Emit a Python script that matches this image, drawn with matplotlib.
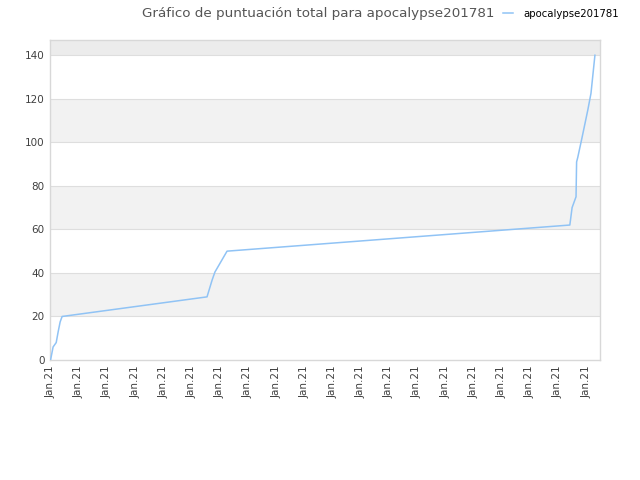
import matplotlib
matplotlib.use("Agg")
import matplotlib.pyplot as plt

# Data (x in tick-units, y total score)
x_vals = [0.0, 0.09, 0.2, 0.27, 0.34, 0.41, 5.55, 5.73, 5.83, 6.26,
          18.42, 18.5, 18.64, 18.66, 18.7, 18.85, 19.06, 19.17, 19.31]
y_vals = [0, 6, 8, 13, 17.5, 20, 29, 36.7, 40.4, 50,
          62, 70, 75, 91, 93, 102, 115, 122.5, 140]
tick_labels = ["Jan.21"] * 20
series_name = "apocalypse201781"
title = "Gráfico de puntuación total para apocalypse201781"

fig = plt.figure(figsize=(6.4, 4.8), dpi=100)
ax = fig.add_axes([50/640, 1-360/480, 550/640, 320/480])

ymax = 147
ax.set_ylim(0, ymax)
ax.set_xlim(-0.02, 19.49)

# alternating bands
for lo in range(0, 160, 20):
    hi = min(lo + 20, ymax)
    if (lo // 20) % 2 == 1:
        ax.axhspan(lo, hi, color="#f2f2f2", zorder=0, lw=0)
ax.axhspan(140, ymax, color="#ececec", zorder=0, lw=0)
for yv in range(20, 160, 20):
    ax.axhline(yv, color="#dedede", lw=0.8, zorder=1)

line, = ax.plot(x_vals, y_vals, color="#90c3f5", lw=1.1, zorder=3, label=series_name)

ax.set_yticks(range(0, 160, 20))
ax.set_xticks(range(20))
ax.set_xticklabels(tick_labels, rotation=90)
ax.tick_params(axis="both", length=0, labelsize=7.5, labelcolor="#404040", pad=4)
for s in ax.spines.values():
    s.set_color("#d8d8d8")
    s.set_linewidth(1)

fig.text(318/640, 1-13/480, title, ha="center", va="center", fontsize=9.7, color="#555555")
fig.legend(handles=[line], loc="center left", bbox_to_anchor=(503/640, 1-14/480),
           frameon=False, fontsize=7.3, handlelength=1.0, handletextpad=1.0,
           borderaxespad=0, borderpad=0)

fig.savefig("out.png", dpi=100)
